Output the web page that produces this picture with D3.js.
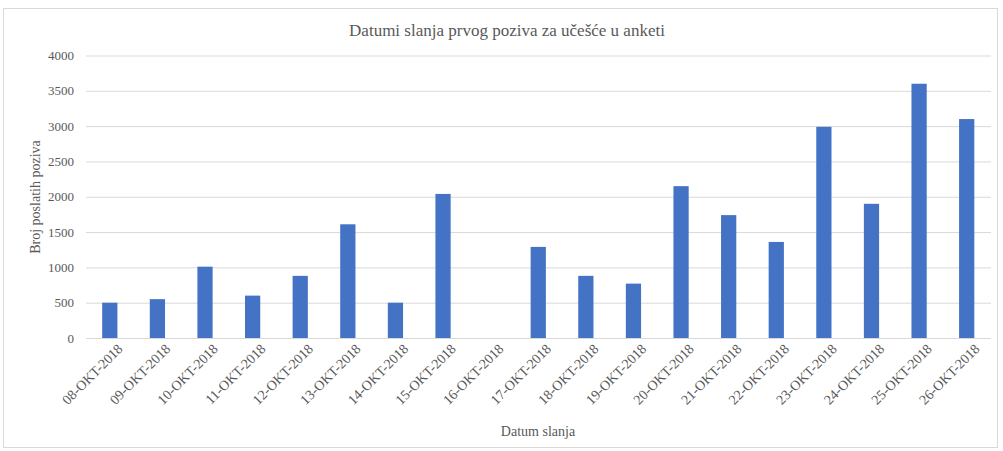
<!DOCTYPE html>
<html>
<head>
<meta charset="utf-8">
<script src="https://cdn.jsdelivr.net/npm/d3@7"></script>
<style>
  body { margin: 0; background: #fff; }
  text { font-family: "Liberation Serif", "DejaVu Serif", serif; }
</style>
</head>
<body>
<div id="chart"></div>
<script>
// data
const dates = ["08-OKT-2018", "09-OKT-2018", "10-OKT-2018", "11-OKT-2018", "12-OKT-2018",
  "13-OKT-2018", "14-OKT-2018", "15-OKT-2018", "16-OKT-2018", "17-OKT-2018", "18-OKT-2018",
  "19-OKT-2018", "20-OKT-2018", "21-OKT-2018", "22-OKT-2018", "23-OKT-2018", "24-OKT-2018",
  "25-OKT-2018", "26-OKT-2018"];
const counts = [500, 550, 1010, 600, 880, 1610, 500, 2040, 0, 1290, 880, 770, 2150, 1740, 1360, 2990, 1900, 3600, 3100];
const yTicks = [0, 500, 1000, 1500, 2000, 2500, 3000, 3500, 4000];

const width = 1003;
const height = 451;
const margin = ({top: 55.5, right: 12, bottom: 113, left: 86});

const svg = d3.create('svg')
  .attr('width', width)
  .attr('height', height);

// outer frame
svg.append('rect')
  .attr('x', 3.5).attr('y', 8.5)
  .attr('width', 994).attr('height', 439)
  .attr('fill', '#fff')
  .attr('stroke', '#d9d9d9');

const xScale = d3.scaleBand()
  .domain(dates)
  .range([margin.left, width - margin.right - 0.5])
  .paddingInner(0.68)
  .paddingOuter(0.34);

const yScale = d3.scaleLinear()
  .domain([0, 4000])
  .range([height - margin.bottom, margin.top]);

// gridlines + y labels
const yAxis = svg.append('g')
  .attr('transform', `translate(${margin.left}, 0)`)
  .call(d3.axisLeft(yScale).tickValues(yTicks).tickFormat(d3.format('d'))
    .tickSize(-(width - margin.left - margin.right)).tickPadding(12));
yAxis.select('.domain').remove();
yAxis.selectAll('.tick line').attr('stroke', '#d9d9d9');
yAxis.selectAll('.tick text')
  .attr('fill', '#595959')
  .attr('font-size', '13px')
  .attr('font-family', '"Liberation Serif", serif');

// bars
svg.append('g')
  .selectAll('rect')
  .data(counts)
  .join('rect')
  .attr('x', (d, i) => xScale(dates[i]))
  .attr('y', d => yScale(d))
  .attr('width', xScale.bandwidth())
  .attr('height', d => yScale(0) - yScale(d))
  .attr('fill', '#4472c4');

// x axis
const xAxis = svg.append('g')
  .attr('transform', `translate(0, ${yScale(0)})`)
  .call(d3.axisBottom(xScale).tickSize(0).tickPadding(6));
xAxis.select('.domain').attr('stroke', '#d9d9d9');
xAxis.selectAll('.tick text')
  .attr('fill', '#595959')
  .attr('font-size', '14px')
  .attr('font-family', '"Liberation Serif", serif')
  .attr('text-anchor', 'end')
  .attr('dy', '0.35em')
  .attr('transform', 'translate(6, 4) rotate(-45)');

// title
svg.append('text')
  .attr('x', 507)
  .attr('y', 36)
  .attr('text-anchor', 'middle')
  .attr('fill', '#595959')
  .attr('font-size', '17px')
  .text('Datumi slanja prvog poziva za učešće u anketi');

// axis titles
svg.append('text')
  .attr('x', 538)
  .attr('y', 436)
  .attr('text-anchor', 'middle')
  .attr('fill', '#595959')
  .attr('font-size', '14px')
  .text('Datum slanja');

svg.append('text')
  .attr('transform', `translate(40, 197) rotate(-90)`)
  .attr('text-anchor', 'middle')
  .attr('fill', '#595959')
  .attr('font-size', '14px')
  .text('Broj poslatih poziva');

document.getElementById('chart').appendChild(svg.node());
</script>
</body>
</html>
